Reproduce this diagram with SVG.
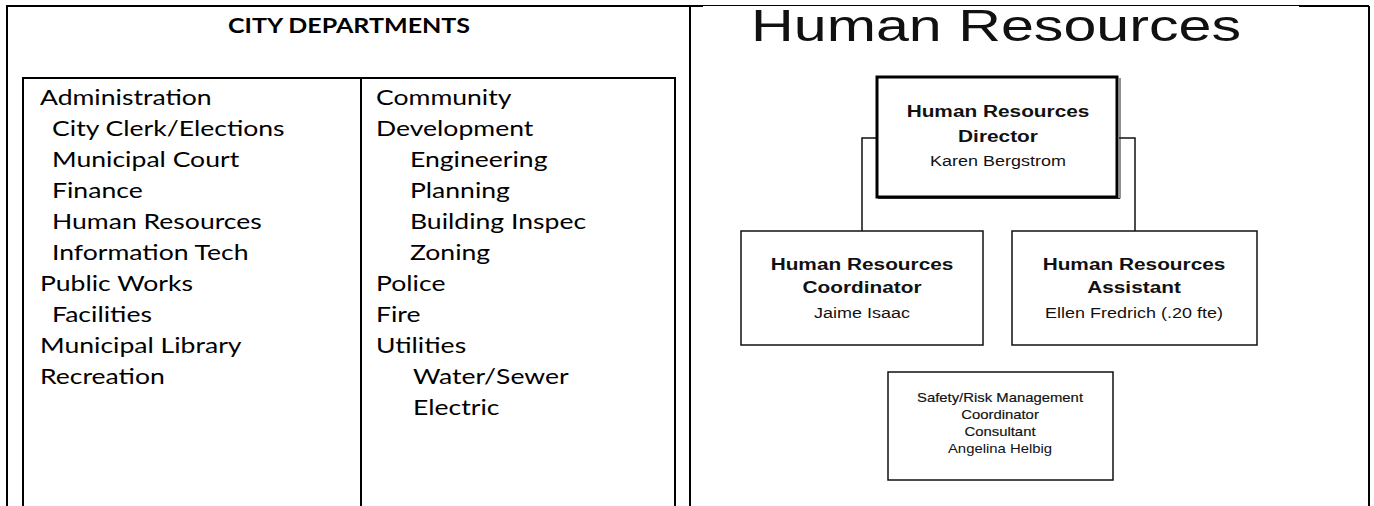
<svg xmlns="http://www.w3.org/2000/svg" width="1374" height="506" viewBox="0 0 1374 506">
  <style>
    .frame { stroke: #000; stroke-width: 2; fill: none; }
    .dept { font-family: Lato, "Liberation Sans", sans-serif; font-size: 21.6px; fill: #000; }
    .head { font-family: Lato, "Liberation Sans", sans-serif; font-size: 21.6px; font-weight: bold; fill: #000; text-anchor: middle; }
    .box { fill: #fff; stroke: #111; stroke-width: 1.5; }
    .boss { fill: #fff; stroke: #000; stroke-width: 3; }
    .wire { fill: none; stroke: #111; stroke-width: 1.5; }
    .org { font-family: "Liberation Sans", Arial, sans-serif; fill: #111; text-anchor: middle; }
    .t { font-size: 16.8px; font-weight: bold; }
    .n { font-size: 14.5px; }
    .s { font-size: 12px; }
    .semi { stroke: #111; stroke-width: 0.15; }
  </style>

  <!-- outer two-cell table -->
  <g id="outer-table">
    <path class="frame" d="M7,506 V6 H703"/>
    <path d="M703,5.5 H1299" stroke="#000" stroke-width="1"/>
    <path class="frame" d="M1299,6 H1369"/>
    <path class="frame" d="M690,6 V506"/>
    <path class="frame" d="M1369,6 V506"/>
  </g>

  <!-- left cell: city departments list (type widened by 1.23) -->
  <g id="city-departments">
    <text class="head" transform="scale(1.16,1)" x="300.9" y="33">CITY DEPARTMENTS</text>
    <path class="frame" d="M23,506 V78 H675 V506"/>
    <path class="frame" d="M361,78 V506"/>
    <g class="dept" transform="scale(1.23,1)">
      <text x="32.5" y="105">Administration</text>
      <text x="42.3" y="136">City Clerk/Elections</text>
      <text x="42.3" y="167">Municipal Court</text>
      <text x="42.3" y="198">Finance</text>
      <text x="42.3" y="229">Human Resources</text>
      <text x="42.3" y="260">Information Tech</text>
      <text x="32.5" y="291">Public Works</text>
      <text x="42.3" y="322">Facilities</text>
      <text x="32.5" y="353">Municipal Library</text>
      <text x="32.5" y="384">Recreation</text>

      <text x="305.7" y="105">Community</text>
      <text x="305.7" y="136">Development</text>
      <text x="333.3" y="167">Engineering</text>
      <text x="333.3" y="198">Planning</text>
      <text x="333.3" y="229">Building Inspec</text>
      <text x="333.3" y="260">Zoning</text>
      <text x="305.7" y="291">Police</text>
      <text x="305.7" y="322">Fire</text>
      <text x="305.7" y="353">Utilities</text>
      <text x="335.8" y="384">Water/Sewer</text>
      <text x="335.8" y="415">Electric</text>
    </g>
  </g>

  <!-- right cell: human resources org chart -->
  <text id="hr-title" class="org" x="996" y="41" font-size="45" textLength="490" lengthAdjust="spacingAndGlyphs">Human Resources</text>

  <g id="connectors">
    <path class="wire" d="M877,138 H862 V231"/>
    <path class="wire" d="M1119,138 H1135 V231"/>
  </g>

  <g id="director">
    <rect class="boss" x="877" y="77" width="240" height="120"/>
    <path d="M1120,78 V198.5 H878" stroke="#222" stroke-width="1" fill="none"/>
    <g class="org" transform="translate(998,0) scale(1.24,1)">
      <text class="t" x="0" y="117">Human Resources</text>
      <text class="t" x="0" y="142">Director</text>
      <text class="n" x="0" y="166">Karen Bergstrom</text>
    </g>
  </g>

  <g id="coordinator">
    <rect class="box" x="741" y="231" width="242" height="114"/>
    <g class="org" transform="translate(862,0) scale(1.24,1)">
      <text class="t" x="0" y="270">Human Resources</text>
      <text class="t" x="0" y="293">Coordinator</text>
      <text class="n" x="0" y="318">Jaime Isaac</text>
    </g>
  </g>

  <g id="assistant">
    <rect class="box" x="1012" y="231" width="245" height="114"/>
    <g class="org" transform="translate(1134,0) scale(1.24,1)">
      <text class="t" x="0" y="270">Human Resources</text>
      <text class="t" x="0" y="293">Assistant</text>
      <text class="n" x="0" y="318">Ellen Fredrich (.20 fte)</text>
    </g>
  </g>

  <g id="safety">
    <rect class="box" x="888" y="372" width="225" height="108"/>
    <g class="org s" transform="translate(1000,0) scale(1.24,1)">
      <text class="semi" x="0" y="402">Safety/Risk Management</text>
      <text class="semi" x="0" y="419">Coordinator</text>
      <text class="semi" x="0" y="436">Consultant</text>
      <text x="0" y="453">Angelina Helbig</text>
    </g>
  </g>
</svg>
